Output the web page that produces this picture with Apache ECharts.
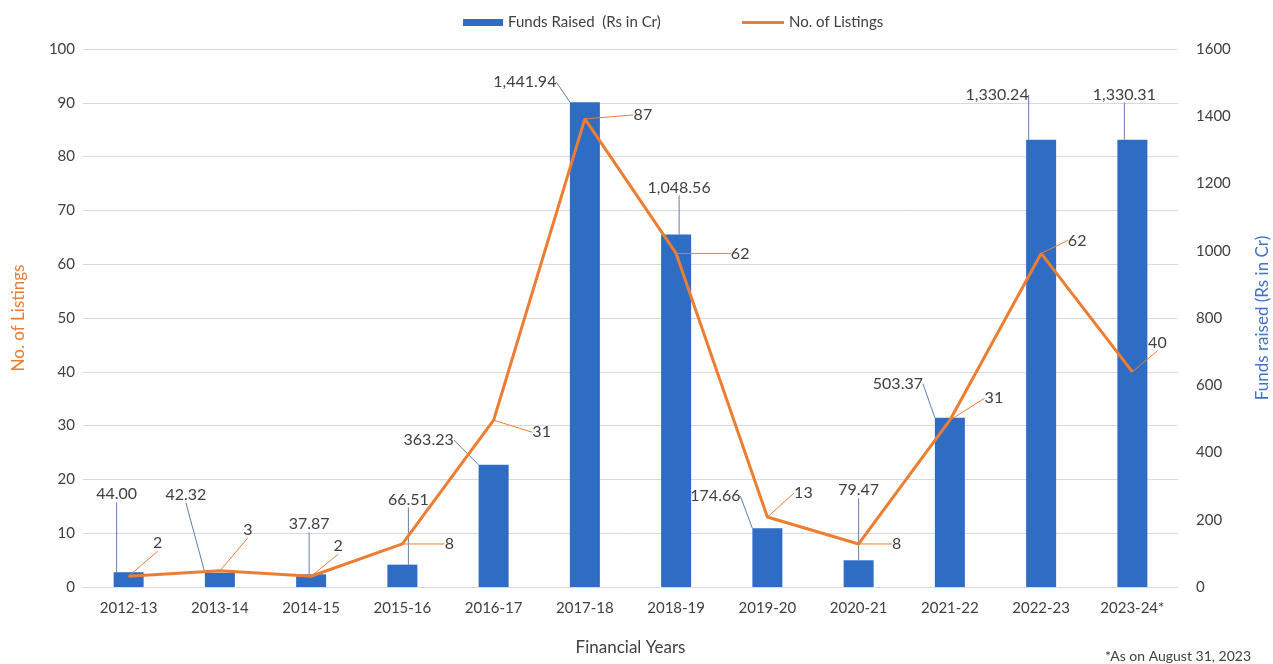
<!DOCTYPE html>
<html>
<head>
<meta charset="utf-8">
<title>Funds Raised and No. of Listings</title>
<script src="https://cdn.jsdelivr.net/npm/echarts@6/dist/echarts.min.js"></script>
<style>
  html, body { margin: 0; padding: 0; background: #ffffff; }
  #chart { width: 1273px; height: 664px; }
</style>
</head>
<body>
<div id="chart"></div>
<script>
// Financial years on the category axis
const years = ['2012-13', '2013-14', '2014-15', '2015-16', '2016-17', '2017-18',
               '2018-19', '2019-20', '2020-21', '2021-22', '2022-23', '2023-24*'];

// Funds raised, Rs in crore (right axis)
const fundsRaised = [44.00, 42.32, 37.87, 66.51, 363.23, 1441.94,
                     1048.56, 174.66, 79.47, 503.37, 1330.24, 1330.31];

// Number of listings (left axis)
const listings = [2, 3, 2, 8, 31, 87, 62, 13, 8, 31, 62, 40];

// Axis ticks
const listingTicks = { min: 0, max: 100, interval: 10 };
const fundTicks = { min: 0, max: 1600, interval: 200 };

// Callout offsets (px) of each value label from its mark
const fundLabelOffset = [[-12, -78], [-34, -78], [-2, -50], [6, -65], [-65, -25], [-60, -20],
                         [3, -47], [-52, -32], [0, -70], [-52, -34], [-44, -45], [-8, -45]];
const listingLabelOffset = [[29, -33], [28, -41], [27, -30], [47, 0], [48, 12], [58, -4],
                            [64, 0], [36, -24], [38, 0], [44, -22], [36, -13], [25, -29]];

const FONT = 'Lato, "Open Sans", sans-serif';
const BLUE = '#2f6cc4';
const ORANGE = '#ed7d31';
const TEXT = '#404040';

const chart = echarts.init(document.getElementById('chart'));

chart.setOption({
  backgroundColor: '#ffffff',
  textStyle: { fontFamily: FONT },
  animation: false,
  legend: [
    {
      data: [{ name: 'Funds Raised  (Rs in Cr)', icon: 'rect' }],
      left: 458, top: 10,
      itemWidth: 40, itemHeight: 7, itemGap: 8,
      textStyle: { fontFamily: FONT, fontSize: 15, color: TEXT }
    },
    {
      data: [{ name: 'No. of Listings', icon: 'rect' }],
      left: 737, top: 10,
      itemWidth: 42, itemHeight: 3, itemGap: 6,
      textStyle: { fontFamily: FONT, fontSize: 15, color: TEXT }
    }
  ],
  grid: { left: 83, right: 95, top: 49, bottom: 77, containLabel: false, outerBoundsMode: 'none' },
  xAxis: {
    type: 'category',
    data: years,
    name: 'Financial Years',
    nameLocation: 'middle',
    nameGap: 52,
    nameTextStyle: { fontFamily: FONT, fontSize: 17, color: TEXT },
    axisLine: { show: true, lineStyle: { color: '#d9d9d9' } },
    axisTick: { show: false },
    axisLabel: { fontFamily: FONT, fontSize: 15, color: TEXT, margin: 14 }
  },
  yAxis: [
    {
      type: 'value',
      min: listingTicks.min, max: listingTicks.max, interval: listingTicks.interval,
      name: 'No. of Listings',
      nameLocation: 'middle',
      nameRotate: 90,
      nameGap: 56,
      nameTextStyle: { fontFamily: FONT, fontSize: 17, color: ORANGE },
      axisLine: { show: false },
      axisTick: { show: false },
      axisLabel: { fontFamily: FONT, fontSize: 15, color: TEXT, margin: 8 },
      splitLine: { show: true, lineStyle: { color: '#d9d9d9', width: 1 } }
    },
    {
      type: 'value',
      min: fundTicks.min, max: fundTicks.max, interval: fundTicks.interval,
      name: 'Funds raised (Rs in Cr)',
      nameLocation: 'middle',
      nameRotate: 90,
      nameGap: 76,
      nameTextStyle: { fontFamily: FONT, fontSize: 17, color: '#4472c4' },
      axisLine: { show: false },
      axisTick: { show: false },
      axisLabel: { fontFamily: FONT, fontSize: 15, color: TEXT, margin: 18, formatter: v => String(v) },
      splitLine: { show: false }
    }
  ],
  series: [
    {
      name: 'Funds Raised  (Rs in Cr)',
      type: 'bar',
      yAxisIndex: 1,
      data: fundsRaised,
      barWidth: 30,
      itemStyle: { color: BLUE },
      label: {
        show: true,
        position: 'top',
        fontFamily: FONT,
        fontSize: 16,
        color: TEXT,
        formatter: p => p.value.toLocaleString('en-US', { minimumFractionDigits: 2, maximumFractionDigits: 2 })
      },
      labelLine: { show: true, lineStyle: { color: '#5f80ad', width: 1 } },
      labelLayout: function (p) {
        const o = fundLabelOffset[p.dataIndex];
        return {
          x: p.rect.x + p.rect.width / 2 + o[0],
          y: p.rect.y + o[1],
          align: 'center',
          verticalAlign: 'middle'
        };
      },
      z: 2
    },
    {
      name: 'No. of Listings',
      type: 'line',
      yAxisIndex: 0,
      data: listings,
      symbol: 'circle',
      symbolSize: 1,
      itemStyle: { color: ORANGE },
      lineStyle: { color: ORANGE, width: 3 },
      label: {
        show: true,
        position: 'top',
        fontFamily: FONT,
        fontSize: 16,
        color: TEXT
      },
      labelLine: { show: true, lineStyle: { color: ORANGE, width: 1 } },
      labelLayout: function (p) {
        const o = listingLabelOffset[p.dataIndex];
        return {
          x: p.rect.x + p.rect.width / 2 + o[0],
          y: p.rect.y + p.rect.height / 2 + o[1],
          align: 'center',
          verticalAlign: 'middle'
        };
      },
      z: 3
    }
  ],
  graphic: [
    {
      type: 'text',
      right: 22,
      bottom: 1,
      style: {
        text: '*As on August 31, 2023',
        fontFamily: FONT,
        fontSize: 14,
        fill: TEXT
      }
    }
  ]
});
</script>
</body>
</html>
